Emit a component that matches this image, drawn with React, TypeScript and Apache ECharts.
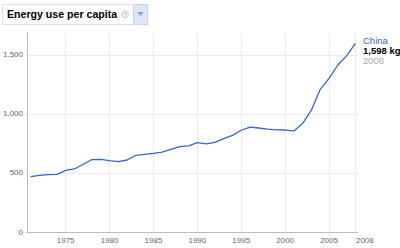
import React, { useEffect, useRef } from "react";
import * as echarts from "echarts";

const years: number[] = [
  1971, 1972, 1973, 1974, 1975, 1976, 1977, 1978, 1979, 1980,
  1981, 1982, 1983, 1984, 1985, 1986, 1987, 1988, 1989, 1990,
  1991, 1992, 1993, 1994, 1995, 1996, 1997, 1998, 1999, 2000,
  2001, 2002, 2003, 2004, 2005, 2006, 2007, 2008,
];
const chinaValues: number[] = [
  469, 480, 486, 489, 522, 534, 574, 614, 615, 604,
  596, 610, 650, 658, 666, 676, 700, 723, 729, 757,
  746, 760, 791, 819, 862, 888, 881, 872, 866, 864,
  856, 921, 1034, 1209, 1302, 1415, 1492, 1598,
];
const xTickYears: number[] = [1975, 1980, 1985, 1990, 1995, 2000, 2005, 2008];
const yTickValues: number[] = [0, 500, 1000, 1500];
const seriesName = "China";
const latestLabel = "1,598 kg";
const latestYear = "2008";
const title = "Energy use per capita";

const FONT = "Arial, 'Liberation Sans', sans-serif";

export default function App() {
  const ref = useRef<HTMLDivElement>(null);
  useEffect(() => {
    if (!ref.current) return;
    const chart = echarts.init(ref.current, undefined, { renderer: "svg" });
    const lastYear = xTickYears[xTickYears.length - 1];
    chart.setOption({
      animation: false,
      grid: { left: 24, top: 33, right: 42, bottom: 16, containLabel: false },
      xAxis: {
        type: "value",
        min: 1970.6,
        max: 2008.3,
        axisLine: { show: true, lineStyle: { color: "#bbbbbb", width: 1 } },
        axisTick: { show: false, customValues: xTickYears },
        axisLabel: {
          customValues: xTickYears,
          color: "#666666",
          fontSize: 8,
          fontFamily: FONT,
          margin: 4,
          formatter: (v: number) => (v === lastYear ? "{last|" + v + "}" : String(v)),
          rich: {
            last: { padding: [0, 0, 0, 19], fontSize: 8, fontFamily: FONT, color: "#666666" },
          },
        },
        splitLine: { show: true, lineStyle: { color: "#ebebeb", width: 1 } },
      },
      yAxis: {
        type: "value",
        min: 0,
        max: 1686,
        axisLine: { show: true, lineStyle: { color: "#bbbbbb", width: 1 } },
        axisTick: { show: false, customValues: yTickValues },
        axisLabel: {
          customValues: yTickValues,
          color: "#666666",
          fontSize: 8,
          fontFamily: FONT,
          margin: 4,
          formatter: (v: number) => v.toLocaleString("en-US"),
        },
        splitLine: { show: true, lineStyle: { color: "#ebebeb", width: 1 } },
      },
      series: [
        {
          type: "line",
          name: seriesName,
          data: years.map((y, i) => [y, chinaValues[i]]),
          showSymbol: false,
          lineStyle: { color: "#3366cc", width: 1.3 },
          itemStyle: { color: "#3366cc" },
        },
      ],
      graphic: [
        {
          type: "rect",
          shape: { x: 2.5, y: 4.5, width: 145, height: 20 },
          style: { fill: "#ffffff", stroke: "#d6e0f0", lineWidth: 1 },
        },
        {
          type: "rect",
          shape: { x: 133.5, y: 4.5, width: 14, height: 20 },
          style: { fill: "#dce6f8", stroke: "#c6d4ee", lineWidth: 1 },
        },
        {
          type: "polygon",
          shape: { points: [[137.5, 12], [143.5, 12], [140.5, 16]] },
          style: { fill: "#7f9bd0" },
        },
        {
          type: "text",
          left: 7,
          top: 8.4,
          style: {
            text: title,
            fontSize: 10.6,
            fontWeight: "bold",
            fontFamily: FONT,
            fill: "#000000",
          },
        },
        {
          type: "circle",
          shape: { cx: 125, cy: 14.5, r: 3.2 },
          style: { fill: "none", stroke: "#b8b8b8", lineWidth: 1 },
        },
        {
          type: "text",
          left: 123.5,
          top: 11.5,
          style: { text: "?", fontSize: 5.5, fontFamily: FONT, fill: "#a8a8a8" },
        },
        {
          type: "text",
          left: 363,
          top: 35,
          style: { text: seriesName, fontSize: 9.5, fontFamily: FONT, fill: "#3366cc" },
        },
        {
          type: "text",
          left: 363,
          top: 45,
          style: { text: latestLabel, fontSize: 9.5, fontWeight: "bold", fontFamily: FONT, fill: "#000000" },
        },
        {
          type: "text",
          left: 363,
          top: 55,
          style: { text: latestYear, fontSize: 9.5, fontFamily: FONT, fill: "#aaaaaa" },
        },
      ],
    });
    return () => chart.dispose();
  }, []);
  return <div ref={ref} style={{ width: 400, height: 248, position: "absolute", left: 0, top: 0 }} />;
}
